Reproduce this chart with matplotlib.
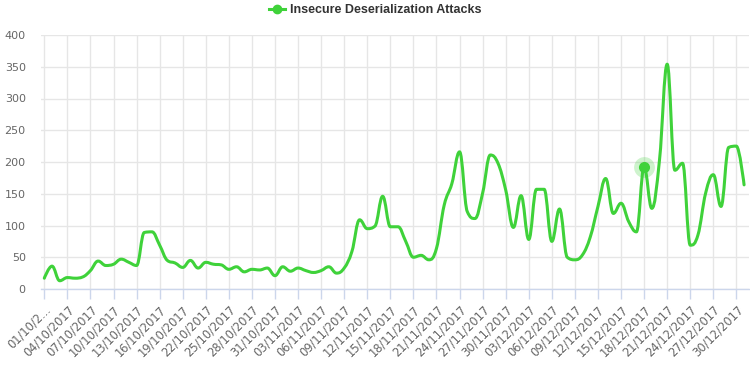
import numpy as np
import pandas as pd
import matplotlib
matplotlib.use("Agg")
import matplotlib.pyplot as plt
from matplotlib.path import Path
from matplotlib.patches import PathPatch
from matplotlib.lines import Line2D

# daily counts, 01/10/2017 .. 31/12/2017
dates = pd.date_range("2017-10-01", "2017-12-31", freq="D")
attacks = [
    17, 36, 13, 18, 17, 19, 29, 44, 37, 39,
    47, 42, 37, 89, 90, 69, 45, 41, 34, 45,
    33, 42, 39, 38, 31, 35, 27, 31, 30, 33,
    21, 35, 28, 33, 29, 26, 29, 35, 25, 33,
    59, 109, 95, 99, 146, 98, 98, 75, 50, 53,
    46, 64, 132, 166, 216, 122, 111, 151, 211, 198,
    156, 97, 147, 78, 157, 157, 75, 126, 50, 46,
    54, 82, 130, 174, 119, 135, 106, 90, 192, 127,
    203, 354, 187, 198, 69, 85, 151, 180, 130, 223,
    225, 164,
]
series_name = "Insecure Deserialization Attacks"
hover_idx = 78  # highlighted point (18/12/2017)

tick_idx = list(range(0, len(dates), 3))
tick_labels = [d.strftime("%d/%m/%Y") for d in dates[tick_idx]]
tick_labels[0] = "01/10/2..."

green = "#3fd23a"
grid_c = "#e6e6e6"
axis_c = "#ccd6eb"
text_c = "#666666"


def spline_path(xs, ys, smoothing=1.5):
    # highcharts-style spline (cubic beziers through each point)
    n = len(xs)
    left = [None] * n
    right = [None] * n
    den = smoothing + 1
    for i in range(1, n - 1):
        lx, ly = xs[i - 1], ys[i - 1]
        px, py = xs[i], ys[i]
        nx, ny = xs[i + 1], ys[i + 1]
        lcx = (smoothing * px + lx) / den
        lcy = (smoothing * py + ly) / den
        rcx = (smoothing * px + nx) / den
        rcy = (smoothing * py + ny) / den
        corr = 0
        if rcx != lcx:
            corr = (rcy - lcy) * (rcx - px) / (rcx - lcx) + py - rcy
        lcy += corr
        rcy += corr
        if lcy > ly and lcy > py:
            lcy = max(ly, py)
            rcy = 2 * py - lcy
        elif lcy < ly and lcy < py:
            lcy = min(ly, py)
            rcy = 2 * py - lcy
        if rcy > ny and rcy > py:
            rcy = max(ny, py)
            lcy = 2 * py - rcy
        elif rcy < ny and rcy < py:
            rcy = min(ny, py)
            lcy = 2 * py - rcy
        left[i] = (lcx, lcy)
        right[i] = (rcx, rcy)
    verts = [(xs[0], ys[0])]
    codes = [Path.MOVETO]
    for i in range(1, n):
        c1 = right[i - 1] or (xs[i - 1], ys[i - 1])
        c2 = left[i] or (xs[i], ys[i])
        verts += [c1, c2, (xs[i], ys[i])]
        codes += [Path.CURVE4] * 3
    return Path(verts, codes)


fig = plt.figure(figsize=(7.5, 3.68), dpi=100)
ax = fig.add_axes([41 / 750, 1 - 289 / 368, 708 / 750, 254 / 368])

x = np.arange(len(dates))
y = np.array(attacks, dtype=float)
ax.add_patch(PathPatch(spline_path(x, y), facecolor="none", edgecolor=green,
                       lw=2.2, capstyle="round", joinstyle="round", zorder=3))

# hovered point with halo
ax.plot(x[hover_idx], y[hover_idx], "o", ms=15, color=green, alpha=0.25,
        mec="none", zorder=4)
ax.plot(x[hover_idx], y[hover_idx], "o", ms=8, color=green, mec="none", zorder=5)

ax.set_xlim(-0.43, 91.64)
ax.set_ylim(0, 400)
ax.set_yticks(range(0, 401, 50))
ax.set_xticks(tick_idx)
ax.set_xticklabels(tick_labels, rotation=45, ha="right", va="top",
                   rotation_mode="anchor", fontsize=8.3, color=text_c)
ax.tick_params(axis="y", length=0, pad=11, labelsize=8, labelcolor=text_c)
ax.tick_params(axis="x", length=7, width=1, color=axis_c, pad=3)
ax.grid(True, color=grid_c, lw=1)
ax.set_axisbelow(True)
for s in ["top", "right", "left"]:
    ax.spines[s].set_visible(False)
ax.spines["bottom"].set_color(axis_c)
ax.spines["bottom"].set_linewidth(1)

handle = Line2D([], [], color=green, lw=2.2, marker="o", ms=6)
fig.legend([handle], [series_name], loc="upper center",
           bbox_to_anchor=(0.5, 1.02), frameon=False, handlelength=1.3,
           handletextpad=0.4, prop={"weight": "bold", "size": 9,
                                    "family": "Liberation Sans"},
           labelcolor="#333333")

fig.savefig("out.png", dpi=100)
